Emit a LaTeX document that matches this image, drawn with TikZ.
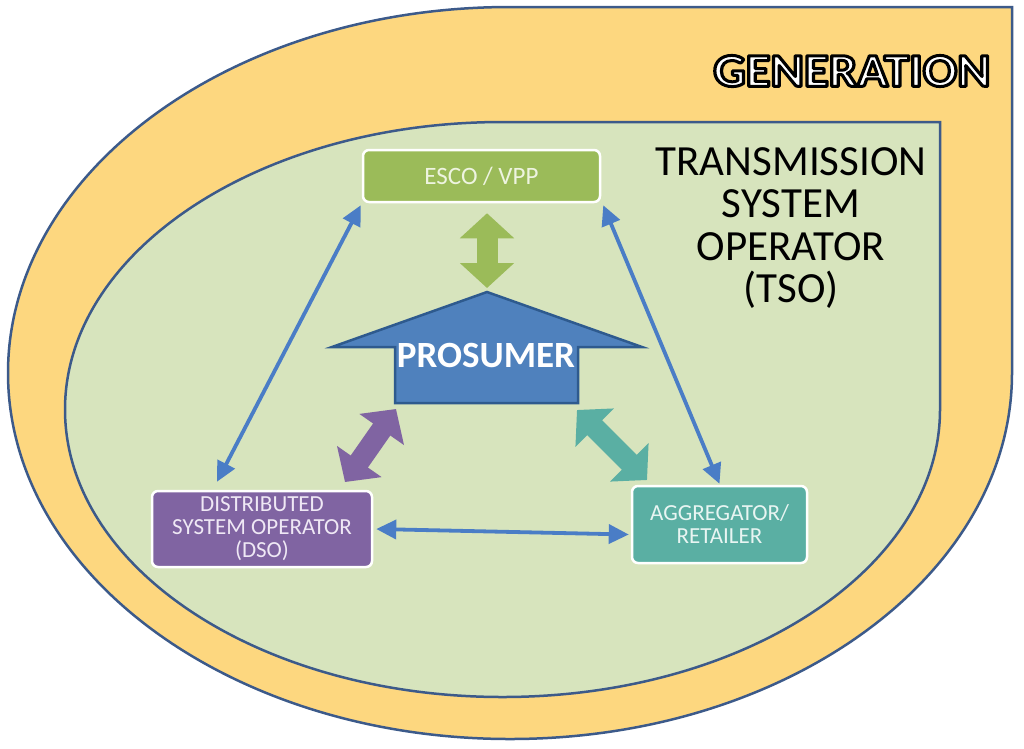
\documentclass[tikz,border=0pt]{standalone}
\usepackage{fontspec}
\setmainfont{Carlito}
\usetikzlibrary{arrows.meta,calc}
\definecolor{outerfill}{HTML}{FDD77F}
\definecolor{outline}{HTML}{3C5A8A}
\definecolor{innerfill}{HTML}{D7E4BD}
\definecolor{escoc}{HTML}{9BBB59}
\definecolor{dsoc}{HTML}{8064A2}
\definecolor{aggc}{HTML}{5AAFA3}
\definecolor{prosc}{HTML}{4F81BD}
\definecolor{prosb}{HTML}{2E5A8E}
\definecolor{linkc}{HTML}{4A7DC6}
\definecolor{escot}{HTML}{EEF4E0}
\definecolor{dsot}{HTML}{EFE8F5}
\definecolor{aggt}{HTML}{E8F5F2}
\newcommand{\outlinedtext}[1]{{\color{white}\special{pdf:literal direct 0 0 0 RG 2 Tr 3 w 1 j}#1\special{pdf:literal direct 0 Tr}}}
\tikzset{
  actorbox/.style={draw=white, line width=2.5pt, rounded corners=6pt, inner sep=2pt, align=center},
  boxfont/.style={font=\fontsize{23}{23}\selectfont},
  blockarrow/.style={line width=21pt, {Triangle[length=25pt,width=53pt]}-{Triangle[length=25pt,width=53pt]}},
  linkarrow/.style={draw=linkc, line width=3.8pt, {Triangle[length=20pt,width=19pt]}-{Triangle[length=20pt,width=19pt]}},
  regionline/.style={draw=outline, line width=2.5pt}
}
\begin{document}
\begin{tikzpicture}[x=1pt,y=-1pt]
\useasboundingbox (0,0) rectangle (1024,748);
% outer region (generation)
\path[regionline, fill=outerfill] (1012,7) -- (1012,373)
  .. controls (1012,575) and (787,739) .. (510,739)
  .. controls (233,739) and (8,575) .. (8,373)
  .. controls (8,171) and (233,7) .. (510,7) -- cycle;
% inner region (TSO)
\path[regionline, fill=innerfill] (940,122) -- (940,409.5)
  .. controls (940,568.3) and (744.1,697) .. (502.5,697)
  .. controls (260.9,697) and (65,568.3) .. (65,409.5)
  .. controls (65,250.7) and (260.9,122) .. (502.5,122) -- cycle;
% labels of regions
\node[xscale=1.08] (gen) at (852,71) {\fontsize{47}{50}\selectfont\bfseries\outlinedtext{GENERATION}};
\node[anchor=north, inner sep=0pt, align=center, font=\fontsize{43}{42.5}\selectfont] (tso) at (791,147) {TRANSMISSION\\SYSTEM\\OPERATOR\\(TSO)};
% actor boxes
\node[actorbox, font=\fontsize{25}{25}\selectfont, fill=escoc, text=escot, minimum width=237pt, minimum height=52pt] (esco) at (481.5,176) {ESCO / VPP};
\node[actorbox, boxfont, fill=dsoc, text=dsot, minimum width=220pt, minimum height=76pt] (dso) at (262,529) {DISTRIBUTED\\SYSTEM OPERATOR\\(DSO)};
\node[actorbox, boxfont, fill=aggc, text=aggt, minimum width=175pt, minimum height=77pt] (agg) at (719.5,524.5) {AGGREGATOR/\\RETAILER};
% prosumer house
\coordinate (apex) at (487,292);
\path[draw=prosb, line width=2.5pt, fill=prosc, line join=miter] (332,347) -- (apex) -- (642,347) -- (578,347) -- (578,403) -- (395,403) -- (395,347) -- cycle;
\node[text=white, font=\fontsize{37}{40}\selectfont\bfseries, inner sep=0pt] (pros) at (486,355) {PROSUMER};
% block arrows
\draw[blockarrow, draw=escoc] (apex |- esco.south) ++(0,10) -- ($(apex)+(0,-4)$);
\coordinate (dsoPA) at (345,482);
\coordinate (prosPA) at (396,409);
\draw[blockarrow, draw=dsoc] (dsoPA) -- (prosPA);
\coordinate (prosTA) at (577,410);
\coordinate (aggTA) at (647,480);
\draw[blockarrow, draw=aggc] (prosTA) -- (aggTA);
% link arrows
\draw[linkarrow] ([xshift=-45pt,yshift=8pt]dso.north) -- ([xshift=-1pt,yshift=-2pt]esco.south west);
\draw[linkarrow] ([xshift=2pt,yshift=-2pt]esco.south east) -- ([yshift=1pt]agg.north);
\draw[linkarrow] ([xshift=3pt]dso.east) -- ([xshift=-2pt,yshift=-10pt]agg.west);
\end{tikzpicture}
\end{document}
